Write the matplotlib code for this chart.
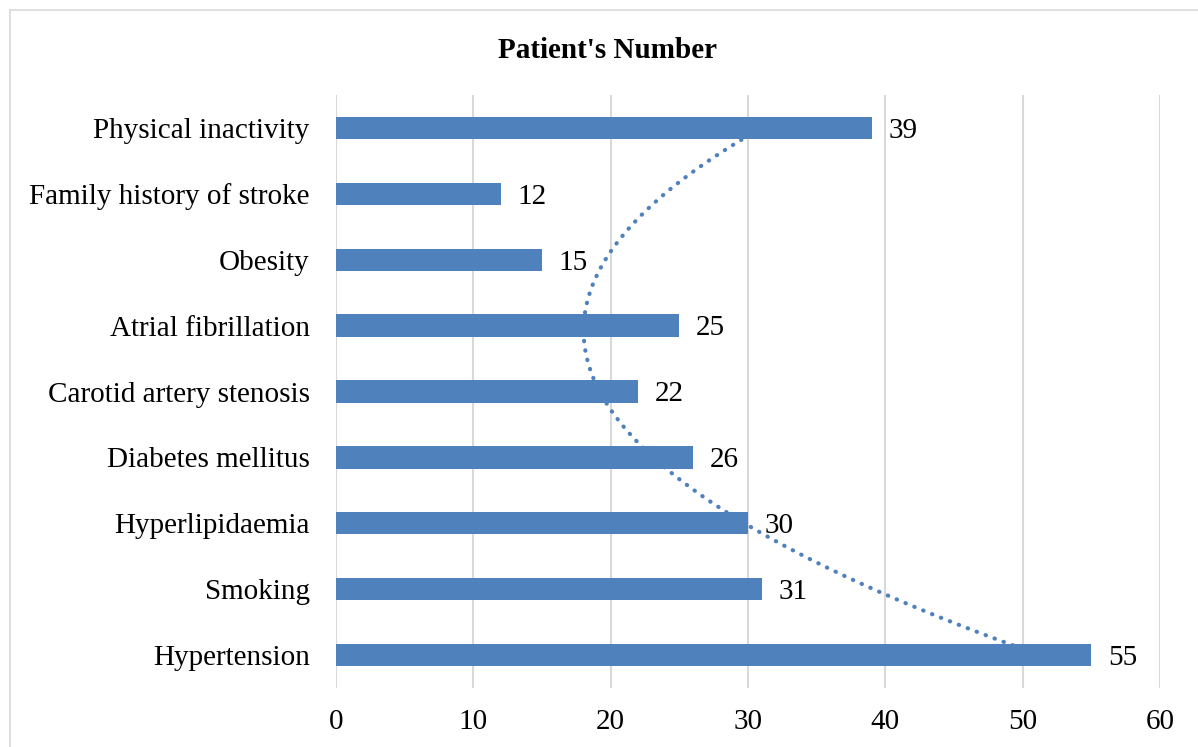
import matplotlib.pyplot as plt
import numpy as np
from matplotlib.lines import Line2D

categories = ['Hypertension', 'Smoking', 'Hyperlipidaemia', 'Diabetes mellitus',
              'Carotid artery stenosis', 'Atrial fibrillation', 'Obesity',
              'Family history of stroke', 'Physical inactivity']
patients = [55, 31, 30, 26, 22, 25, 15, 12, 39]
x_ticks = [0, 10, 20, 30, 40, 50, 60]

bar_color = '#4F81BD'
grid_color = '#D9D9D9'

plt.rcParams['font.family'] = ['Liberation Serif', 'DejaVu Serif']

W, H = 1198, 747
fig = plt.figure(figsize=(W / 100, H / 100), dpi=100)
ax = fig.add_axes([336 / W, 1 - 688 / H, (1160 - 336) / W, (688 - 95) / H])

pos = np.arange(1, len(categories) + 1)
ax.barh(pos, patients, height=0.34, color=bar_color, zorder=3)

# polynomial (order 2) trendline, drawn behind the bars like Excel does
coef = np.polyfit(pos, patients, 2)
yy = np.linspace(pos[0], pos[-1], 200)
ax.plot(np.polyval(coef, yy), yy, color=bar_color, linestyle=(0, (0.1, 2.2)),
        linewidth=3, dash_capstyle='round', zorder=2)

for p, v in zip(pos, patients):
    ax.annotate(str(v), (v, p), xytext=(12, -2), textcoords='offset points',
                ha='left', va='center', fontsize=21)

ax.set_xlim(0, 60)
ax.set_ylim(0.5, len(categories) + 0.5)
ax.set_xticks(x_ticks)
ax.set_yticks(pos)
ax.set_yticklabels(categories)
ax.tick_params(axis='both', length=0, labelsize=21)
ax.tick_params(axis='y', pad=19)
ax.tick_params(axis='x', pad=15)
ax.xaxis.grid(True, color=grid_color, linewidth=1.5, zorder=0)
ax.set_axisbelow(True)
for s in ax.spines.values():
    s.set_visible(False)

fig.text(607 / W, 1 - 50 / H, "Patient's Number", ha='center', va='center',
         fontsize=21, fontweight='bold')

# light chart-area border (top and left edges visible)
fig.add_artist(Line2D([10 / W, 1], [1 - 9.5 / H, 1 - 9.5 / H], color=grid_color,
                      linewidth=1.2, transform=fig.transFigure))
fig.add_artist(Line2D([10 / W, 10 / W], [0, 1 - 9.5 / H], color=grid_color,
                      linewidth=1.2, transform=fig.transFigure))

fig.savefig('out.png', dpi=100)
